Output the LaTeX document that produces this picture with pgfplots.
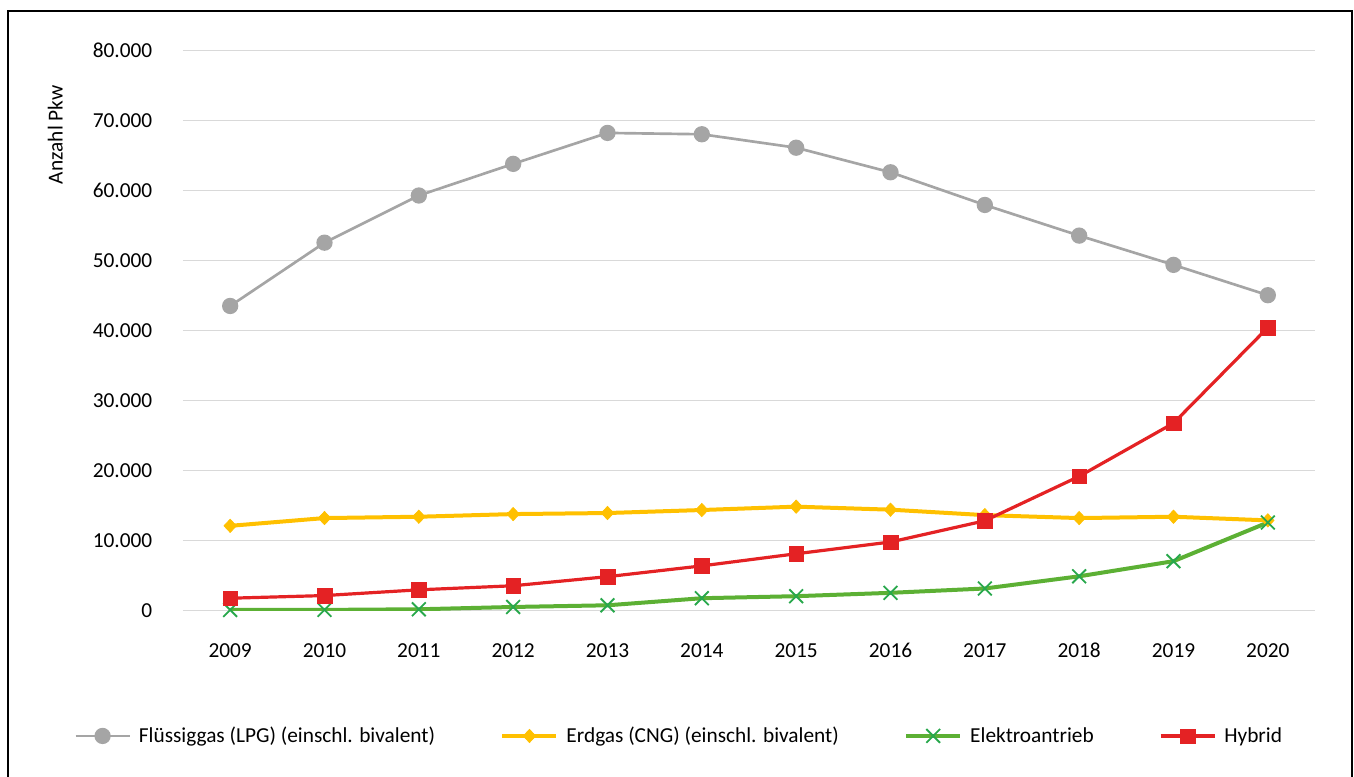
\documentclass[border=0pt]{standalone}
\usepackage{pgfplots}
\pgfplotsset{compat=1.18}
\usepackage{fontspec}
\setmainfont{Carlito}
\definecolor{cLPG}{HTML}{A5A5A5}
\definecolor{cCNG}{HTML}{FFC000}
\definecolor{cEL}{RGB}{92,176,52}
\definecolor{cELm}{RGB}{40,168,76}
\definecolor{cHY}{RGB}{228,34,36}
\definecolor{cGrid}{HTML}{D9D9D9}
\begin{document}
\begin{tikzpicture}
\useasboundingbox (0,0) rectangle (1015.5pt,-582pt);
% outer frame (open at the bottom)
\draw[line width=1.5pt] (6pt,-600pt) -- (6pt,-8pt) -- (1014pt,-8pt) -- (1014pt,-600pt);
\node[rotate=90, font=\fontsize{16}{19}\selectfont] at (41.5pt,-101pt) {Anzahl Pkw};
\begin{axis}[
  at={(137.25pt,-458pt)}, anchor=south west,
  scale only axis, width=849pt, height=420pt,
  xmin=-0.5, xmax=11.5, ymin=0, ymax=80000,
  scaled y ticks=false,
  xtick={0,...,11},
  xticklabels={2009,2010,2011,2012,2013,2014,2015,2016,2017,2018,2019,2020},
  ytick={0,10000,20000,30000,40000,50000,60000,70000,80000},
  yticklabels={0,10.000,20.000,30.000,40.000,50.000,60.000,70.000,80.000},
  axis line style={draw=none},
  major tick length=0pt,
  ymajorgrids, grid style={cGrid, line width=1pt},
  tick label style={font=\fontsize{16}{19}\selectfont},
  xticklabel style={yshift=-21pt},
  yticklabel style={xshift=-19.5pt},
  legend columns=4,
  legend style={at={(-0.0963,-0.2237)}, anchor=west, draw=none, fill=none,
    inner xsep=0pt, inner ysep=0pt,
    font=\fontsize{16}{19}\selectfont,
    /tikz/every odd column/.append style={column sep=4pt},
    /tikz/every even column/.append style={column sep=47pt}},
  legend image code/.code={\draw[mark repeat=2,mark phase=2] plot coordinates {(0pt,0pt) (20.25pt,0pt) (40.5pt,0pt)};},
]
\addplot[cLPG, line width=2pt, mark=*, mark size=5.1pt, mark options={solid, fill=cLPG, draw=cLPG}]
  coordinates {(0,43530) (1,52570) (2,59310) (3,63830) (4,68250) (5,68060) (6,66140) (7,62630) (8,57960) (9,53580) (10,49400) (11,45070)};
\addlegendentry{Flüssiggas (LPG) (einschl. bivalent)}
\addplot[cCNG, line width=3pt, mark=diamond*, mark size=5pt, mark options={solid, fill=cCNG, draw=cCNG, line width=0.5pt, xscale=1.25}]
  coordinates {(0,12120) (1,13230) (2,13420) (3,13800) (4,13950) (5,14380) (6,14860) (7,14430) (8,13650) (9,13230) (10,13420) (11,12900)};
\addlegendentry{Erdgas (CNG) (einschl. bivalent)}
\addplot[cEL, line width=3pt, mark=x, mark size=7.3pt, mark options={solid, draw=cELm, line width=1.4pt}]
  coordinates {(0,100) (1,110) (2,200) (3,530) (4,770) (5,1780) (6,2070) (7,2550) (8,3170) (9,4910) (10,7070) (11,12600)};
\addlegendentry{Elektroantrieb}
\addplot[cHY, line width=2.4pt, mark=square*, mark size=5.4pt, mark options={solid, fill=cHY, draw=cHY, line width=0.3pt}]
  coordinates {(0,1780) (1,2160) (2,2980) (3,3560) (4,4860) (5,6400) (6,8130) (7,9810) (8,12840) (9,19190) (10,26790) (11,40450)};
\addlegendentry{Hybrid}
\end{axis}
\end{tikzpicture}
\end{document}
